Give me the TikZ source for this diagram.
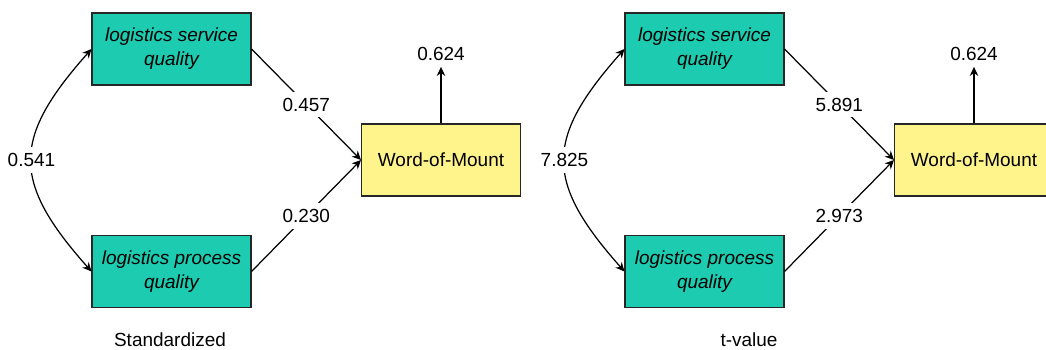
\documentclass[tikz,border=0pt]{standalone}
\usepackage{fontspec}
\setmainfont{Liberation Sans}
\usetikzlibrary{arrows.meta}

\definecolor{constructgreen}{RGB}{29,204,176}
\definecolor{outcomeyellow}{RGB}{255,243,140}

\begin{document}
\begin{tikzpicture}[x=0.02cm, y=0.02cm, >={Stealth[length=1.8mm, width=1.7mm]}, font=\fontsize{10.8}{13.6}\selectfont]

    \tikzset{%
    every construct/.style={
        draw=black!85,
        line width=0.6pt,
        minimum width=3.18cm,
        minimum height=1.44cm,
        align=center,
        fill=constructgreen,
        font=\fontsize{10.8}{13.6}\selectfont\itshape
        },
    construct outcome/.style={
        fill=outcomeyellow,
        font=\fontsize{10.8}{13.6}\selectfont
        },
    path label/.style={
        fill=white,
        inner sep=3.5pt
        },
    path line/.style={
        ->,
        line width=0.7pt
        },
    }

    \useasboundingbox (0,0) rectangle (1046,349);

    % Two panels: standardized estimates and t-values
    \foreach \p/\dx/\r/\a/\b/\t/\tx in {1/0/0.541/0.457/0.230/Standardized/170,
                                        2/533/7.825/5.891/2.973/t-value/216}
    {
    % Construct boxes
    \node [every construct] (service-\p) at (171.5+\dx,300) {logistics service\\quality};
    \node [every construct] (process-\p) at (171.5+\dx,77.5) {logistics process\\quality};
    \node [every construct, construct outcome] (wom-\p) at (441+\dx,189) {Word-of-Mount};

    % R square above the outcome
    \node (rsq-\p) at (441+\dx,295) {0.624};
    \draw [path line] (wom-\p) -- (rsq-\p);

    % Correlation between the two constructs
    \draw [path line, <->] (service-\p.west) .. controls +(-80,-90) and +(-80,90) ..
    node [path label, midway] (corr-\p) {\r} (process-\p.west);

    % Path coefficients
    \draw [path line] (service-\p.east) -- node [path label, midway] (coefa-\p) {\a} (wom-\p.west);
    \draw [path line] (process-\p.east) -- node [path label, midway] (coefb-\p) {\b} (wom-\p.west);

    % Panel title
    \node (title-\p) at (\tx+\dx,9) {\t};
    }

\end{tikzpicture}
\end{document}
